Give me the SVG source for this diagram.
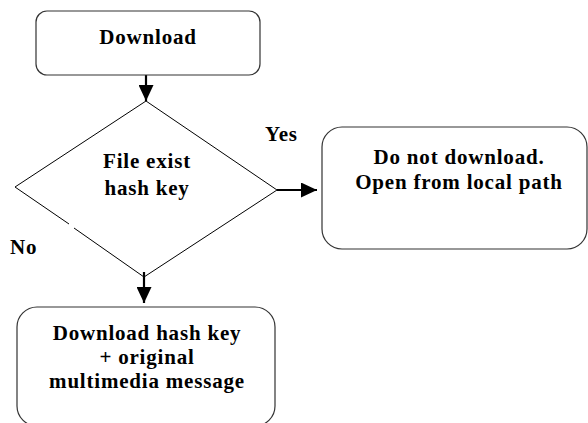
<svg xmlns="http://www.w3.org/2000/svg" width="588" height="423" viewBox="0 0 588 423">
  <defs>
    <marker id="arrow" viewBox="0 0 16 15" refX="16" refY="7.5" markerWidth="16" markerHeight="15" markerUnits="userSpaceOnUse" orient="auto">
      <path d="M0,0 L16,7.5 L0,15 Z" fill="#000"/>
    </marker>
  </defs>
  <style>
    .box { fill: #fff; stroke: #333; stroke-width: 1.2; }
    .decision { fill: none; stroke: #000; stroke-width: 1; }
    .link { fill: none; stroke: #000; stroke-width: 2.2; }
    text { font-family: "Liberation Serif", "Times New Roman", serif; font-weight: bold; font-size: 21px; letter-spacing: 0.8px; fill: #000; }
    .c { text-anchor: middle; }
  </style>
  <rect width="588" height="423" fill="#fff"/>

  <g id="connectors">
    <line class="link" x1="146" y1="75" x2="146" y2="101" marker-end="url(#arrow)"/>
    <line class="link" x1="277" y1="190" x2="317" y2="190" marker-end="url(#arrow)"/>
    <line class="link" x1="144" y1="272" x2="144" y2="303" marker-end="url(#arrow)"/>
  </g>

  <g id="start">
    <rect class="box" x="36" y="11" width="224" height="64" rx="11"/>
    <text class="c" x="148" y="44">Download</text>
  </g>

  <g id="check">
    <!-- lower-left edge is broken near the "No" label -->
    <polyline class="decision" points="69,224 15,187 146,101 277,190 144,277 74,228"/>
    <text class="c" x="147" y="168">File exist</text>
    <text class="c" x="147" y="195">hash key</text>
  </g>

  <g id="label-yes">
    <text x="265" y="141">Yes</text>
  </g>
  <g id="label-no">
    <text x="10" y="254">No</text>
  </g>

  <g id="open-local">
    <rect class="box" x="322" y="127" width="265" height="122" rx="20"/>
    <text class="c" x="459" y="164">Do not download.</text>
    <text class="c" x="459" y="189">Open from local path</text>
  </g>

  <g id="fetch">
    <rect class="box" x="17" y="307" width="258" height="119" rx="20"/>
    <text class="c" x="147" y="340">Download hash key</text>
    <text class="c" x="147" y="364">+ original</text>
    <text class="c" x="147" y="388">multimedia message</text>
  </g>
</svg>
